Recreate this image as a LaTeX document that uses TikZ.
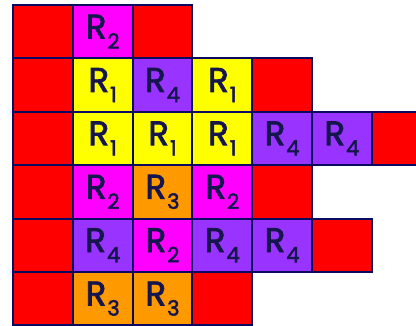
\documentclass[tikz,border=0pt]{standalone}
\usepackage{fontspec}
\setmainfont{Poppins}
\newfontfamily\labfont{Poppins}[FakeBold=2.4]
\definecolor{cred}{HTML}{FF0000}
\definecolor{cmag}{HTML}{FF00FF}
\definecolor{cyel}{HTML}{FFFF00}
\definecolor{cpur}{HTML}{9933FF}
\definecolor{cora}{HTML}{FF9900}
\definecolor{cnavy}{HTML}{0A0A60}
\definecolor{ctext}{HTML}{16164E}
\newcommand\lab[1]{R\kern1pt\raisebox{-0.3em}{\fontsize{21}{21}\selectfont #1}}
\newcommand\cellR[4]{\node[cell,fill=#3] (c#1#2) at ({13+59.8*(#2+0.5)},{5+53.4*(#1+0.5)}) {#4};}
\tikzset{cell/.style={draw=cnavy,line width=2pt,minimum width=59.8pt,minimum height=53.4pt,inner sep=0pt,text=ctext,font=\labfont\fontsize{34}{34}\selectfont}}
\begin{document}
\begin{tikzpicture}[x=1pt,y=-1pt]
\useasboundingbox (0,0) rectangle (416,326);
\clip (0,0) rectangle (416,326);
\fill[white] (0,0) rectangle (416,326);
% row 0
\cellR{0}{0}{cred}{}
\cellR{0}{1}{cmag}{\lab{2}}
\cellR{0}{2}{cred}{}
% row 1
\cellR{1}{0}{cred}{}
\cellR{1}{1}{cyel}{\lab{1}}
\cellR{1}{2}{cpur}{\lab{4}}
\cellR{1}{3}{cyel}{\lab{1}}
\cellR{1}{4}{cred}{}
% row 2
\cellR{2}{0}{cred}{}
\cellR{2}{1}{cyel}{\lab{1}}
\cellR{2}{2}{cyel}{\lab{1}}
\cellR{2}{3}{cyel}{\lab{1}}
\cellR{2}{4}{cpur}{\lab{4}}
\cellR{2}{5}{cpur}{\lab{4}}
\cellR{2}{6}{cred}{}
% row 3
\cellR{3}{0}{cred}{}
\cellR{3}{1}{cmag}{\lab{2}}
\cellR{3}{2}{cora}{\lab{3}}
\cellR{3}{3}{cmag}{\lab{2}}
\cellR{3}{4}{cred}{}
% row 4
\cellR{4}{0}{cred}{}
\cellR{4}{1}{cpur}{\lab{4}}
\cellR{4}{2}{cmag}{\lab{2}}
\cellR{4}{3}{cpur}{\lab{4}}
\cellR{4}{4}{cpur}{\lab{4}}
\cellR{4}{5}{cred}{}
% row 5
\cellR{5}{0}{cred}{}
\cellR{5}{1}{cora}{\lab{3}}
\cellR{5}{2}{cora}{\lab{3}}
\cellR{5}{3}{cred}{}
\end{tikzpicture}
\end{document}
